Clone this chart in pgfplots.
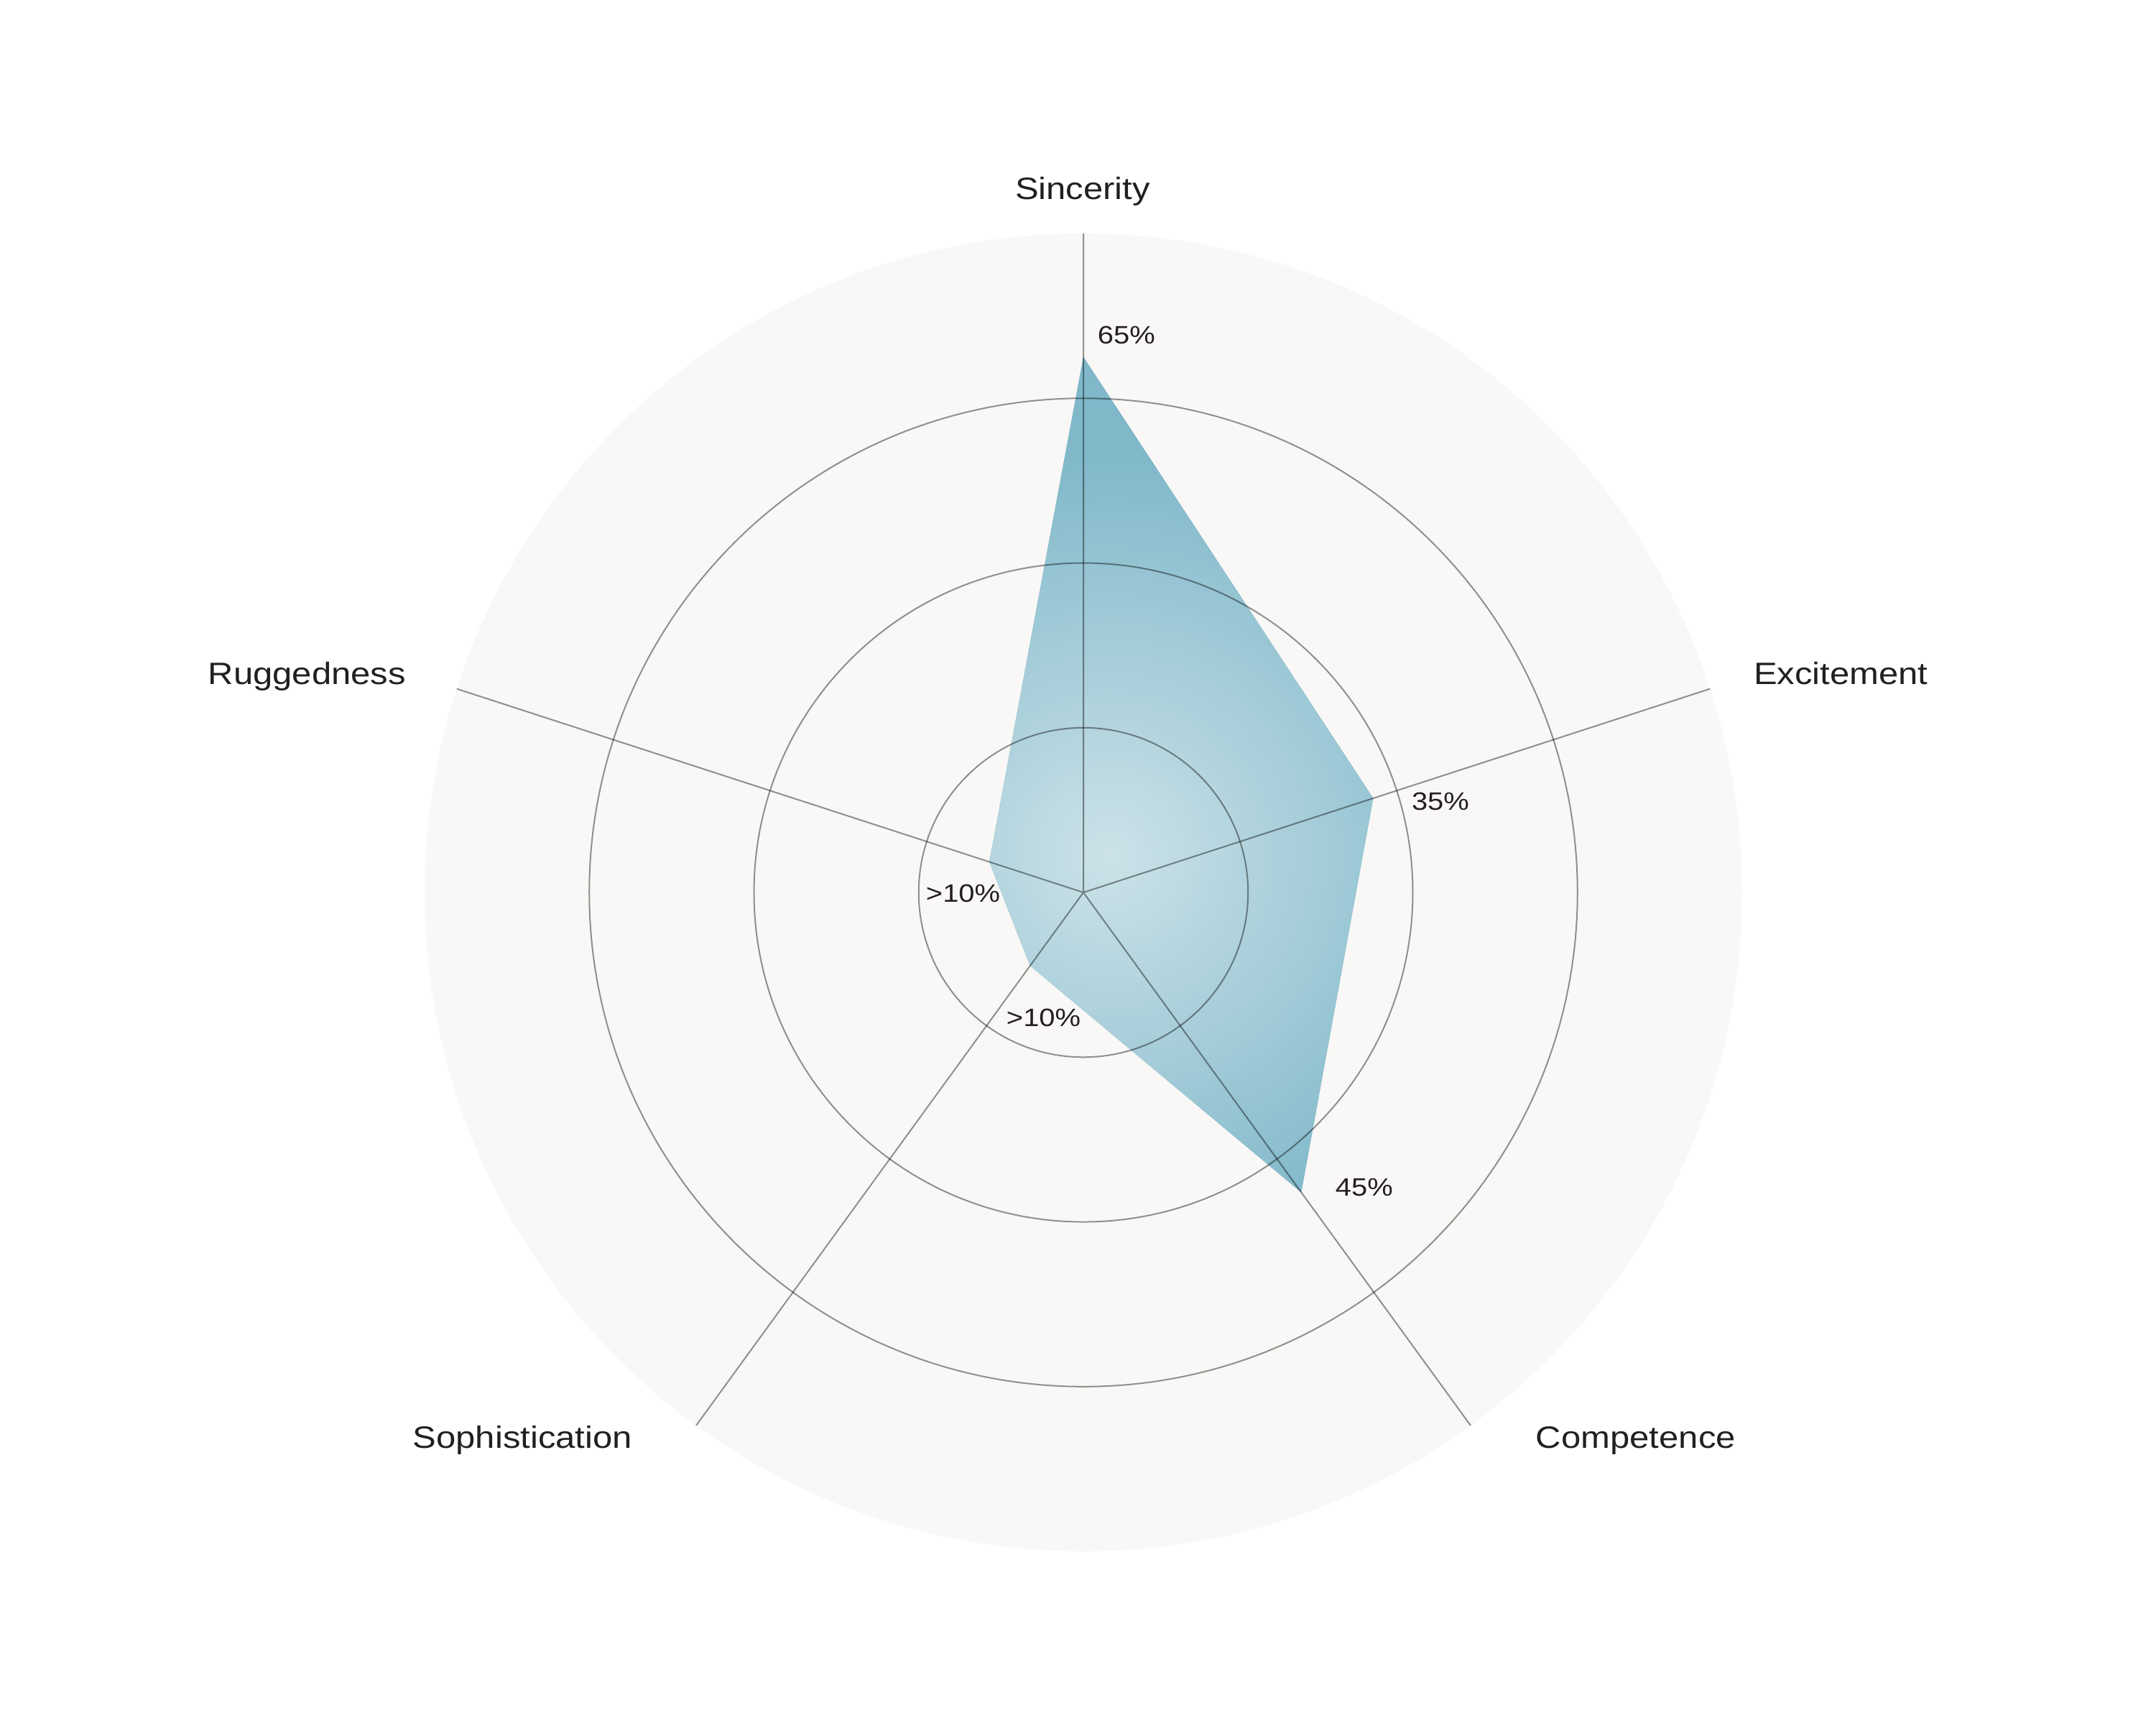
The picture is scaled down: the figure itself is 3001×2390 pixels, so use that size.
\documentclass[border=0pt]{standalone}
\usepackage{fontspec}
\setmainfont{Liberation Sans}[FakeStretch=1.14]
\usepackage{pgfplots}
\pgfplotsset{compat=1.18}
\usepgfplotslibrary{polar}

\definecolor{diskbg}{HTML}{F9F8F6}
\definecolor{fillin}{HTML}{CCE2E8}
\definecolor{fillout}{HTML}{80B8CA}
\definecolor{ink}{HTML}{231F20}

\pgfdeclareradialshading{blobshade}{\pgfpointorigin}{%
  color(0bp)=(fillin); color(12.5bp)=(fillout); color(50bp)=(fillout)}

\begin{document}
\begin{tikzpicture}
% 1 px of the reference = 0.2pt, (0,0) = top left corner
\begin{scope}[x=0.2pt,y=-0.2pt,shift={(-301.6pt,248.4pt)}]
  \useasboundingbox (0,0) rectangle (3001,2390);
\end{scope}

\begin{polaraxis}[
  at={(0,0)}, anchor=center,
  scale only axis, width=366.8pt, height=366.8pt,
  xmin=0, xmax=360,
  ymin=0, ymax=80,
  xtick={18,90,162,234,306},
  ytick={20,40,60},
  xticklabels={}, yticklabels={},
  major tick length=0pt,
  grid=major,
  major grid style={draw=black, opacity=0.42, line width=0.4pt},
  axis line style={draw=none},
  axis background/.style={fill=diskbg},
  axis on top,
  clip=false,
]
% Sincerity, Excitement, Competence, Sophistication, Ruggedness
\addplot[draw=none, fill=fillout,
  path picture={\fill[path picture={}, shading=blobshade]
    (axis cs:54.6,5.6) circle (224pt);}]
  coordinates {(90,65) (18,37) (306,45) (234,11) (162,12) (90,65)};
\end{polaraxis}

\begin{scope}[x=0.2pt,y=-0.2pt,shift={(-301.6pt,248.4pt)},
  every node/.style={inner sep=0pt, text=ink}]
  \begin{scope}[every node/.append style={font=\fontsize{8.6}{10}\selectfont}]
    \node[anchor=base] at (1507,277) {Sincerity};
    \node[anchor=base west] at (2440,952) {Excitement};
    \node[anchor=base east] at (566,952) {Ruggedness};
    \node[anchor=base west] at (2137,2015) {Competence};
    \node[anchor=base east] at (881,2015) {Sophistication};
  \end{scope}
  \begin{scope}[every node/.append style={font=\fontsize{7}{8}\selectfont}]
    \node[anchor=base west] at (1527,478) {65\%};
    \node[anchor=base west] at (1964,1127) {35\%};
    \node[anchor=base west] at (1858,1664) {45\%};
    \node[anchor=base west] at (1288,1255) {>10\%};
    \node[anchor=base west] at (1400,1428) {>10\%};
  \end{scope}
\end{scope}
\end{tikzpicture}
\end{document}
